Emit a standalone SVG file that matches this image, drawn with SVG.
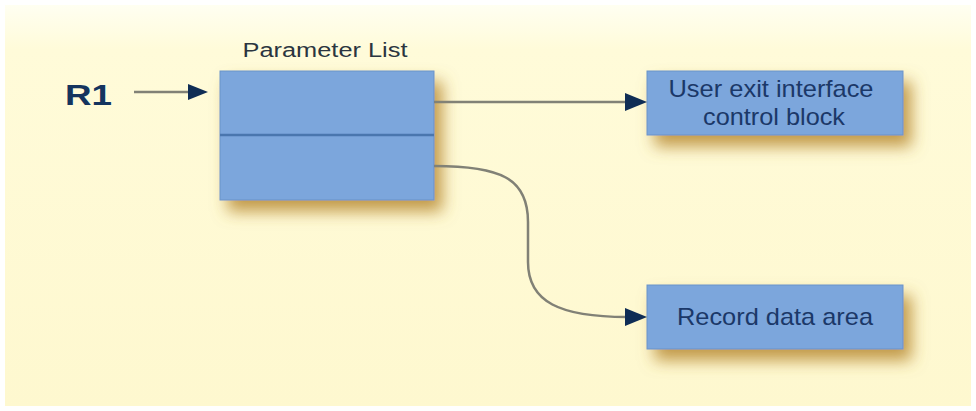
<svg xmlns="http://www.w3.org/2000/svg" width="976" height="411" viewBox="0 0 976 411">
<defs>
<linearGradient id="bg" x1="0" y1="0" x2="0" y2="1">
<stop offset="0" stop-color="#fffff4"/>
<stop offset="0.12" stop-color="#fffbd9"/>
<stop offset="1" stop-color="#fef8cf"/>
</linearGradient>
<filter id="sh" x="-20%" y="-20%" width="150%" height="190%">
<feDropShadow dx="8" dy="11" stdDeviation="8" flood-color="#b88a30" flood-opacity="0.85"/>
</filter>
</defs>
<style>
.box{fill:#7ba6dc;stroke:#6b93c8;stroke-width:1}
.lbl{font-family:"Liberation Sans",Arial,sans-serif;font-size:24px;fill:#1b3868;text-anchor:middle}
.con{fill:none;stroke:#818176;stroke-width:2.5}
.head{fill:#0f2d55}
</style>
<rect x="0" y="0" width="976" height="411" fill="url(#bg)"/>
<rect x="0" y="0" width="976" height="411" fill="none" stroke="#ffffff" stroke-width="10"/>
<text x="65" y="105" font-family="Liberation Sans,Arial,sans-serif" font-size="29" font-weight="bold" fill="#14345e" textLength="47" lengthAdjust="spacingAndGlyphs">R1</text>
<g id="param-list">
<text class="lbl" x="325" y="57" style="font-size:20px;fill:#2b3540" textLength="165" lengthAdjust="spacingAndGlyphs">Parameter List</text>
<rect class="box" x="220" y="71" width="214" height="129" filter="url(#sh)"/>
<line x1="220" y1="135" x2="434" y2="135" stroke="#4a76ae" stroke-width="2.5"/>
</g>
<g id="user-exit">
<rect class="box" x="647" y="71" width="256" height="64" filter="url(#sh)"/>
<text class="lbl" x="771" y="97" textLength="205" lengthAdjust="spacingAndGlyphs">User exit interface</text>
<text class="lbl" x="774" y="125" textLength="142" lengthAdjust="spacingAndGlyphs">control block</text>
</g>
<g id="record-data">
<rect class="box" x="647" y="285" width="256" height="64" filter="url(#sh)"/>
<text class="lbl" x="775" y="325" textLength="196" lengthAdjust="spacingAndGlyphs">Record data area</text>
</g>
<g id="connectors">
<path class="con" d="M134,92 L190,92"/>
<path class="head" d="M188,84 L208,92 L188,100 Z"/>
<path class="con" d="M434,102 L627,102"/>
<path class="head" d="M625,93 L647,102 L625,111 Z"/>
<path class="con" d="M434,166 C500,166 528,178 528,222 L528,262 C528,302 560,317 627,317"/>
<path class="head" d="M625,308 L647,317 L625,326 Z"/>
</g>
</svg>
